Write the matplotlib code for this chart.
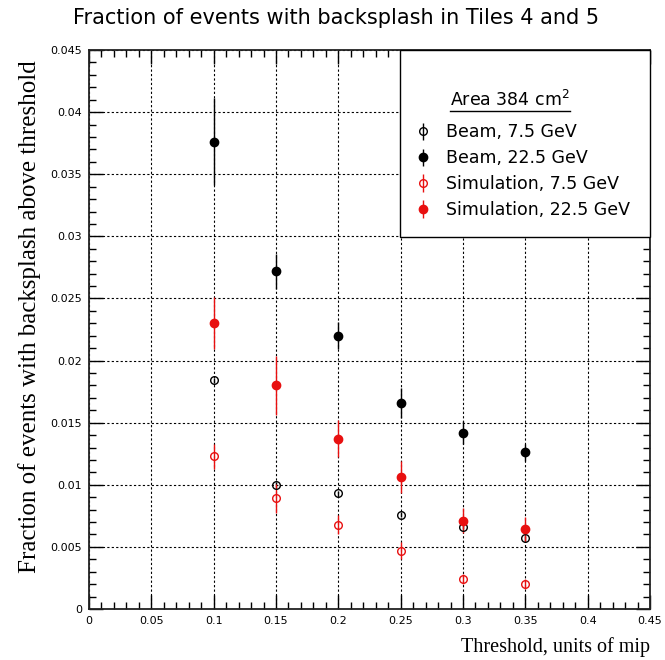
import matplotlib
matplotlib.use("Agg")
import matplotlib.pyplot as plt
from matplotlib.lines import Line2D
from matplotlib.ticker import MultipleLocator
import numpy as np

threshold = [0.10, 0.15, 0.20, 0.25, 0.30, 0.35]

beam_7_5 = [0.0184, 0.0100, 0.0093, 0.0076, 0.0066, 0.0057]
beam_7_5_err = [0.0002, 0.0002, 0.0002, 0.0002, 0.0002, 0.0002]

beam_22_5 = [0.0376, 0.0272, 0.0220, 0.0166, 0.0142, 0.0126]
beam_22_5_err = [0.0035, 0.0014, 0.0011, 0.0012, 0.0009, 0.0007]

sim_7_5 = [0.0123, 0.0089, 0.0068, 0.0047, 0.0024, 0.0020]
sim_7_5_err = [0.0010, 0.0012, 0.0008, 0.0007, 0.0004, 0.0004]

sim_22_5 = [0.0230, 0.0180, 0.0137, 0.0106, 0.0071, 0.0064]
sim_22_5_err = [0.0021, 0.0024, 0.0015, 0.0013, 0.0010, 0.0010]

labels = ["Beam, 7.5 GeV", "Beam, 22.5 GeV",
          "Simulation, 7.5 GeV", "Simulation, 22.5 GeV"]

red = "#e81010"

fig = plt.figure(figsize=(6.65, 6.6), dpi=100)
ax = fig.add_axes([0.1338, 0.0773, 0.8436, 0.8469])

series = [
    (beam_7_5, beam_7_5_err, "black", "none"),
    (beam_22_5, beam_22_5_err, "black", "full"),
    (sim_7_5, sim_7_5_err, red, "none"),
    (sim_22_5, sim_22_5_err, red, "full"),
]
handles = []
for (vals, errs, col, fill), lab in zip(series, labels):
    h = ax.errorbar(threshold, vals, yerr=errs, fmt="o", color=col,
                    ecolor=col, elinewidth=1.0, capsize=0,
                    markersize=6 if fill == "full" else 5.5,
                    fillstyle=fill, markeredgewidth=1.0, label=lab,
                    zorder=3)
    handles.append(h)

ax.set_xlim(0, 0.45)
ax.set_ylim(0, 0.045)
ax.xaxis.set_major_locator(MultipleLocator(0.05))
ax.xaxis.set_minor_locator(MultipleLocator(0.01))
ax.yaxis.set_major_locator(MultipleLocator(0.005))
ax.yaxis.set_minor_locator(MultipleLocator(0.001))
ax.xaxis.set_major_formatter(plt.FuncFormatter(lambda v, p: "%g" % round(v, 3)))
ax.yaxis.set_major_formatter(plt.FuncFormatter(lambda v, p: "%g" % round(v, 4)))
ax.tick_params(which="both", direction="in", top=True, right=True,
               labelsize=8, width=1.0)
ax.tick_params(which="major", length=10, pad=5)
ax.tick_params(which="minor", length=5)
ax.grid(True, which="major", color="black", linestyle=(0, (2, 2)),
        linewidth=0.8)
for s in ax.spines.values():
    s.set_linewidth(1.3)
    s.set_color("#222222")

fig.suptitle("Fraction of events with backsplash in Tiles 4 and 5",
             x=0.506, y=0.988, fontsize=15)
ax.set_ylabel("Fraction of events with backsplash above threshold",
              family="Liberation Serif", fontsize=18)
ax.yaxis.set_label_coords(-0.085, 0.523)
ax.set_xlabel("Threshold, units of mip", family="Liberation Serif",
              fontsize=14.5, loc="right", labelpad=8)

leg = ax.legend(handles=handles, labels=labels, loc="upper left",
                bbox_to_anchor=(0.554, 0.0, 0.446, 1.0), mode="expand",
                borderaxespad=0, fancybox=False, framealpha=1,
                edgecolor="black", fontsize=12.5, handlelength=0.6,
                handletextpad=1.0, labelspacing=0.45, borderpad=1.05,
                title="\nArea 384 cm$^2$", title_fontsize=12.5)
leg.get_frame().set_linewidth(1.0)
leg.get_title().set_position((-15, 0))
# extra room between the area caption and the entries
leg._legend_box.sep = 10

fig.canvas.draw()
bb = leg.get_title().get_window_extent()
inv = fig.transFigure.inverted()
(x0, y0), (x1, y1) = inv.transform([(bb.x0, bb.y0 - 1), (bb.x1, bb.y0 - 1)])
fig.add_artist(Line2D([x0, x1], [y0, y1], color="black", linewidth=1.0))

fig.savefig("out.png", dpi=100)
